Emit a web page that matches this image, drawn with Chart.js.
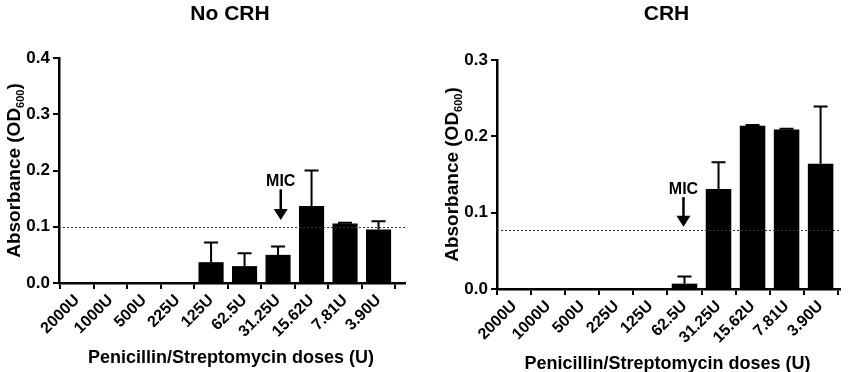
<!DOCTYPE html>
<html>
<head>
<meta charset="utf-8">
<script src="https://cdn.jsdelivr.net/npm/chart.js@4.4.1/dist/chart.umd.min.js"></script>
<style>
    html, body { margin: 0; padding: 0; background: #fff; }
    .panel { position: absolute; top: 0; height: 372px; }
</style>
</head>
<body>
<div class="panel" style="left:0;width:425px"><canvas id="no-crh-chart"></canvas></div>
<div class="panel" style="left:425px;width:426px"><canvas id="crh-chart"></canvas></div>
<script>
// Doses on the x axis (same for both panels)
const doses = ['2000U', '1000U', '500U', '225U', '125U', '62.5U', '31.25U', '15.62U', '7.81U', '3.90U'];

// No CRH panel
const noCrhMeans = [0, 0, 0, 0, 0.037, 0.030, 0.050, 0.137, 0.106, 0.095];
const noCrhSem = [0, 0, 0, 0, 0.035, 0.023, 0.015, 0.063, 0.001, 0.015];
const noCrhCutoff = 0.1;
const noCrhYTicks = [0, 0.1, 0.2, 0.3, 0.4];

// CRH panel
const crhMeans = [0, 0, 0, 0, 0, 0.007, 0.131, 0.214, 0.209, 0.164];
const crhSem = [0, 0, 0, 0, 0, 0.0095, 0.035, 0.001, 0.001, 0.075];
const crhCutoff = 0.077;
const crhYTicks = [0, 0.1, 0.2, 0.3];

const FONT = '"Liberation Sans", Arial, sans-serif';
Chart.defaults.font.family = FONT;
Chart.defaults.font.weight = 'bold';
Chart.defaults.color = '#000';

// Draws error bars, cutoff line, MIC arrow, titles
const decorPlugin = {
    id: 'decor',
    afterDatasetsDraw: function (chart, args, opts) {
        const ctx = chart.ctx;
        const xs = chart.scales.x;
        const ys = chart.scales.y;
        const area = chart.chartArea;

        // error bars (upper only)
        ctx.save();
        ctx.strokeStyle = '#000';
        ctx.lineWidth = 2;
        opts.means.forEach((m, i) => {
            if (m <= 0) return;
            const x = xs.getPixelForValue(i);
            const y0 = ys.getPixelForValue(m);
            const y1 = ys.getPixelForValue(m + opts.sem[i]);
            ctx.beginPath();
            ctx.moveTo(x, y0);
            ctx.lineTo(x, y1);
            ctx.moveTo(x - 7, y1);
            ctx.lineTo(x + 7, y1);
            ctx.stroke();
        });
        ctx.restore();

        // dotted cutoff line
        ctx.save();
        const yc = Math.round(ys.getPixelForValue(opts.cutoff)) + 0.5;
        ctx.strokeStyle = '#333';
        ctx.lineWidth = 1.2;
        ctx.setLineDash([2, 2]);
        ctx.beginPath();
        ctx.moveTo(area.left, yc);
        ctx.lineTo(area.right, yc);
        ctx.stroke();
        ctx.restore();

        // MIC label + arrow
        ctx.save();
        const mx = xs.getPixelForValue(opts.mic.x);
        const tTop = ys.getPixelForValue(opts.mic.top);
        const tTip = ys.getPixelForValue(opts.mic.tip);
        ctx.fillStyle = '#000';
        ctx.font = 'bold 16px ' + FONT;
        ctx.textAlign = 'center';
        ctx.textBaseline = 'alphabetic';
        ctx.fillText('MIC', mx, tTop - 1);
        ctx.strokeStyle = '#000';
        ctx.lineWidth = 2.5;
        ctx.beginPath();
        ctx.moveTo(mx, tTop + 2);
        ctx.lineTo(mx, tTip - 8);
        ctx.stroke();
        ctx.beginPath();
        ctx.moveTo(mx - 7, tTip - 11);
        ctx.lineTo(mx + 7, tTip - 11);
        ctx.lineTo(mx, tTip);
        ctx.closePath();
        ctx.fill();
        ctx.restore();
    },
    afterDraw: function (chart, args, opts) {
        const ctx = chart.ctx;
        const area = chart.chartArea;
        const cx = (area.left + area.right) / 2;
        ctx.save();
        ctx.fillStyle = '#000';
        ctx.textAlign = 'center';
        ctx.textBaseline = 'middle';

        // panel title
        ctx.font = 'bold 21px ' + FONT;
        ctx.fillText(opts.title, cx - 2, 14);

        // x axis title
        ctx.font = 'bold 18px ' + FONT;
        ctx.fillText('Penicillin/Streptomycin doses (U)', cx - 1, area.bottom + 75);

        // y axis title with subscript
        const main = 'Absorbance (OD';
        const sub = '600';
        const close = ')';
        ctx.font = 'bold 19px ' + FONT;
        const wMain = ctx.measureText(main).width;
        const wClose = ctx.measureText(close).width;
        ctx.font = 'bold 11px ' + FONT;
        const wSub = ctx.measureText(sub).width;
        const total = wMain + wSub + wClose;
        ctx.translate(area.left - 46, (area.top + area.bottom) / 2);
        ctx.rotate(-Math.PI / 2);
        ctx.textAlign = 'left';
        ctx.textBaseline = 'alphabetic';
        let px = -total / 2;
        ctx.font = 'bold 19px ' + FONT;
        ctx.fillText(main, px, 7);
        px += wMain;
        ctx.font = 'bold 11px ' + FONT;
        ctx.fillText(sub, px, 11);
        px += wSub;
        ctx.font = 'bold 19px ' + FONT;
        ctx.fillText(close, px, 7);
        ctx.restore();
    }
};

function makeChart(canvasId, means, sem, cutoff, yTicks, cfg) {
    return new Chart(document.getElementById(canvasId), {
        type: 'bar',
        data: {
            datasets: [{
                data: means.map((v, i) => ({x: i, y: v})),
                backgroundColor: '#000',
                borderWidth: 0,
                categoryPercentage: 1,
                barPercentage: 0.75
            }]
        },
        options: {
            responsive: true,
            maintainAspectRatio: false,
            animation: false,
            layout: {padding: {left: 0, top: cfg.top, right: cfg.right, bottom: 0}},
            plugins: {
                legend: {display: false},
                tooltip: {enabled: false},
                decor: {
                    title: cfg.title,
                    means: means,
                    sem: sem,
                    cutoff: cutoff,
                    mic: cfg.mic
                }
            },
            scales: {
                x: {
                    type: 'linear',
                    offset: false,
                    min: cfg.xMin,
                    max: cfg.xMax,
                    afterFit: scale => { scale.height = cfg.xHeight; },
                    border: {display: true, color: '#000', width: 2.5},
                    grid: {display: true, drawOnChartArea: false, drawTicks: true, tickLength: 6, color: '#000', lineWidth: 2},
                    ticks: {
                        stepSize: 1,
                        includeBounds: false,
                        autoSkip: false,
                        minRotation: 45,
                        maxRotation: 45,
                        padding: 2,
                        font: {size: 16, weight: 'bold'},
                        callback: v => doses[v] ?? ''
                    }
                },
                y: {
                    min: 0,
                    max: yTicks[yTicks.length - 1],
                    afterFit: scale => { scale.width = cfg.yWidth; },
                    afterBuildTicks: scale => { scale.ticks = yTicks.map(v => ({value: v})); },
                    border: {display: true, color: '#000', width: 2.5},
                    grid: {display: true, drawOnChartArea: false, drawTicks: true, tickLength: 6, color: '#000', lineWidth: 2},
                    ticks: {
                        padding: 3,
                        font: {size: 17, weight: 'bold'},
                        callback: v => v.toFixed(1)
                    }
                }
            }
        },
        plugins: [decorPlugin]
    });
}

makeChart('no-crh-chart', noCrhMeans, noCrhSem, noCrhCutoff, noCrhYTicks, {
    title: 'No CRH',
    top: 58, right: 20, xHeight: 89, yWidth: 59,
    xMin: -0.54, xMax: 9.79,
    mic: {x: 6.08, top: 0.170, tip: 0.112}
});

makeChart('crh-chart', crhMeans, crhSem, crhCutoff, crhYTicks, {
    title: 'CRH',
    top: 60, right: 11, xHeight: 83, yWidth: 72,
    xMin: -0.51, xMax: 9.57,
    mic: {x: 4.97, top: 0.123, tip: 0.0815}
});
</script>
</body>
</html>
